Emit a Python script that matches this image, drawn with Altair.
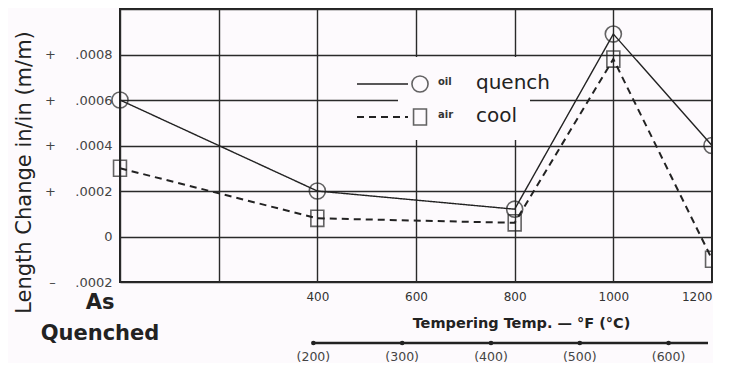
import altair as alt
import pandas as pd

# ---- data ----
temps_f = [0, 400, 800, 1000, 1200]          # 0 = "As Quenched"
oil_quench = [0.0006, 0.0002, 0.00012, 0.00089, 0.0004]
air_cool = [0.0003, 0.00008, 0.00006, 0.00078, -0.0001]
series_names = ["oil quench", "air cool"]
x_ticks = [0, 200, 400, 600, 800, 1000, 1200]
y_ticks = [-0.0002, 0, 0.0002, 0.0004, 0.0006, 0.0008, 0.001]
celsius_ticks = [200, 300, 400, 500, 600]
legend_small = ["oil", "air"]
legend_big = ["quench", "cool"]
as_quenched = ["As", "Quenched"]

rows = []
for name, vals in zip(series_names, [oil_quench, air_cool]):
    for t, v in zip(temps_f, vals):
        rows.append({"temp": t, "change": v, "series": name})
df = pd.DataFrame(rows)

W, H = 592, 273
BG = "#fdfafd"
INK = "#222222"
FONT = "DejaVu Sans"

x_scale = alt.Scale(domain=[0, 1200], nice=False, zero=False)
y_scale = alt.Scale(domain=[-0.0002, 0.001], nice=False, zero=False)
dash_scale = alt.Scale(domain=series_names, range=[[1, 0], [7, 5]])
width_scale = alt.Scale(domain=series_names, range=[1.4, 2.0])
shape_scale = alt.Scale(domain=series_names, range=["circle", "M-0.8,-1H0.8V1H-0.8Z"])

x_axis = alt.Axis(
    values=x_ticks,
    labelExpr="datum.value < 400 ? '' : format(datum.value, 'd')",
    labelFlush=True,
    labelFontSize=12, labelColor="#333", labelFont=FONT, labelPadding=9,
    ticks=False, domain=False,
    grid=True, gridColor="#2a2a2a", gridWidth=1.4,
    title="Tempering Temp. — °F (°C)",
    titleFontSize=14.5, titleFontWeight="bold", titleFont=FONT, titleColor=INK,
    titleX=401, titleY=41, titleBaseline="middle", titleAlign="center",
)
y_axis = alt.Axis(
    values=y_ticks,
    labelExpr=("datum.value > 0.00095 ? '' : (abs(datum.value) < 1e-9 ? '0' : "
               "((datum.value > 0 ? '+' : '\u2013') + '\u2002\u2002\u2002' + "
               "replace(format(abs(datum.value), '.4f'), '0.', '.')))"),
    labelFontSize=13, labelColor="#444", labelFont=FONT, labelPadding=8,
    ticks=False, domain=False,
    grid=True, gridColor="#2a2a2a", gridWidth=1.4,
    title="Length Change in/in (m/m)",
    titleFontSize=21, titleFontWeight="normal", titleFont=FONT, titleColor=INK,
    titleX=-90, titleY=163, titleAngle=270, titleBaseline="alphabetic", titleAlign="center",
)

base = alt.Chart(df)
lines = base.mark_line(color=INK).encode(
    x=alt.X("temp:Q", scale=x_scale, axis=x_axis),
    y=alt.Y("change:Q", scale=y_scale, axis=y_axis),
    strokeDash=alt.StrokeDash("series:N", scale=dash_scale, legend=None),
    strokeWidth=alt.StrokeWidth("series:N", scale=width_scale, legend=None),
)
points = base.mark_point(filled=False, color=INK, strokeWidth=1.6, size=260).encode(
    x="temp:Q",
    y="change:Q",
    shape=alt.Shape("series:N", scale=shape_scale, legend=None),
)

# ---- legend drawn inside the plot ----
legend_bg = alt.Chart(pd.DataFrame({"series": series_names[:1]})).mark_rect(color=BG).encode(
    x=alt.value(278), x2=alt.value(410), y=alt.value(48), y2=alt.value(131)
)
legend_layers = [legend_bg]
for i, (name, small, big) in enumerate(zip(series_names, legend_small, legend_big)):
    ly = 75 + 33 * i
    one = alt.Chart(pd.DataFrame({"series": [name], "small": [small], "big": [big]}))
    legend_layers.append(one.mark_rule(color=INK).encode(
        x=alt.value(237), x2=alt.value(288), y=alt.value(ly),
        strokeDash=alt.StrokeDash("series:N", scale=dash_scale, legend=None),
        strokeWidth=alt.StrokeWidth("series:N", scale=width_scale, legend=None),
    ))
    legend_layers.append(one.mark_point(filled=False, color=INK, strokeWidth=1.6, size=260).encode(
        x=alt.value(300), y=alt.value(ly),
        shape=alt.Shape("series:N", scale=shape_scale, legend=None),
    ))
    legend_layers.append(one.mark_text(align="left", baseline="middle", fontSize=10,
                                       fontWeight="bold", font=FONT, color="#333").encode(
        x=alt.value(318), y=alt.value(ly - 2), text="small:N"))
    legend_layers.append(one.mark_text(align="left", baseline="middle", fontSize=20,
                                       font=FONT, color=INK).encode(
        x=alt.value(356), y=alt.value(ly - 1), text="big:N"))

# ---- "As Quenched" label ----
aq_layers = []
for i, word in enumerate(as_quenched):
    aq_layers.append(alt.Chart(pd.DataFrame({"w": [word]})).mark_text(
        align="center", baseline="alphabetic", fontSize=21, fontWeight="bold",
        font=FONT, color=INK).encode(
        x=alt.value(-20), y=alt.value(300 + 31 * i), text="w:N"))

# ---- secondary °C axis ----
cel = alt.Chart(pd.DataFrame({"c": celsius_ticks})).transform_calculate(
    f="datum.c * 1.8 + 32", lab="'(' + datum.c + ')'"
)
cel_line = cel.mark_rule(color=INK, strokeWidth=2.5).encode(
    x="min(f):Q", x2=alt.value(588), y=alt.value(334))
cel_ticks = cel.mark_circle(color=INK, size=22, opacity=1).encode(
    x="f:Q", y=alt.value(334))
cel_labels = cel.mark_text(fontSize=12.5, font=FONT, color="#444", baseline="middle").encode(
    x="f:Q", y=alt.value(348), text="lab:N")

chart = alt.layer(
    lines, points, *legend_layers, *aq_layers, cel_line, cel_ticks, cel_labels
).properties(
    width=W, height=H,
    autosize=alt.AutoSizeParams(type="none"),
    padding={"left": 112, "top": 1, "right": 1, "bottom": 81},
    background=BG,
).configure_view(stroke=INK, strokeWidth=2)

chart.save("out.html", embed_options={"renderer": "svg", "actions": False})
